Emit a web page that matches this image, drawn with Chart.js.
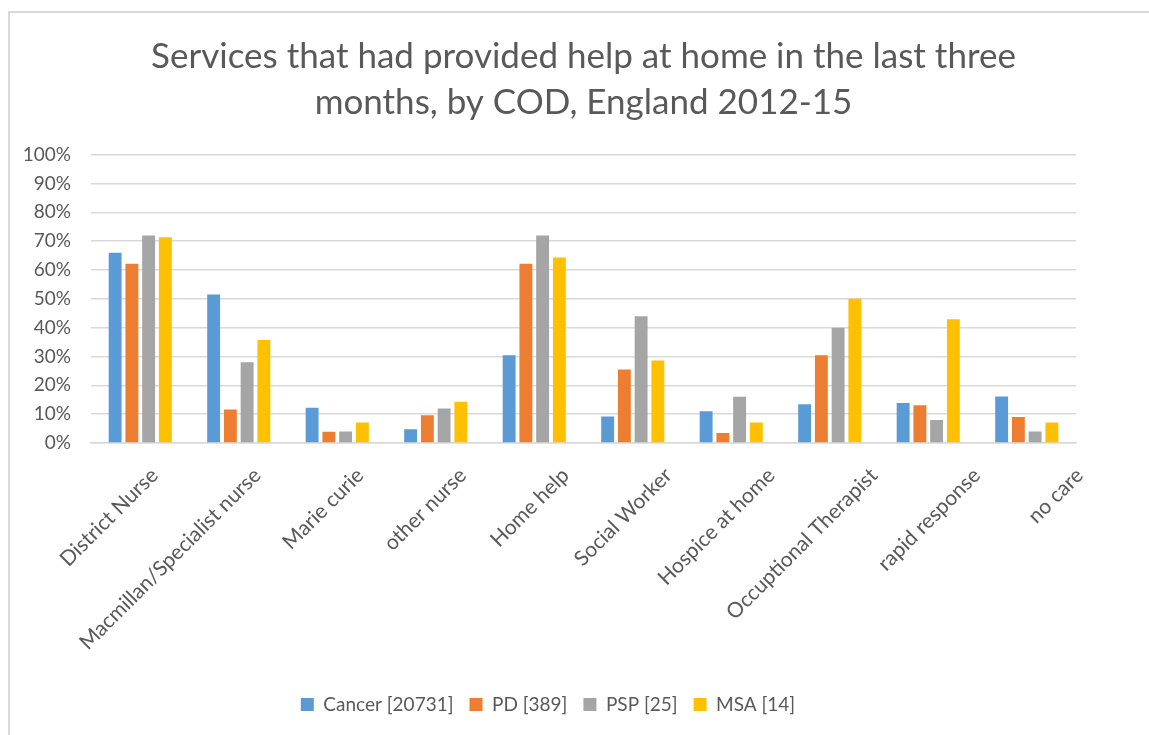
<!DOCTYPE html>
<html>
<head>
<meta charset="utf-8">
<script src="https://cdn.jsdelivr.net/npm/chart.js@4/dist/chart.umd.min.js"></script>
<style>
  html, body { margin: 0; padding: 0; background: #fff; }
  #wrap { position: relative; width: 1149px; height: 735px; overflow: hidden; }
  #frame { position: absolute; left: 8px; top: 11px; width: 1200px; height: 800px;
           border-left: 2px solid #d9d9d9; border-top: 2px solid #d9d9d9; }
  #c { position: absolute; left: 0; top: 0; }
</style>
</head>
<body>
<div id="wrap">
  <div id="frame"></div>
  <canvas id="c" width="1149" height="735"></canvas>
</div>
<script>
const categories = ["District Nurse", "Macmillan/Specialist nurse", "Marie curie", "other nurse",
  "Home help", "Social Worker", "Hospice at home", "Occuptional Therapist", "rapid response", "no care"];

const cancer = [66.0, 51.5, 12.2, 4.8, 30.4, 9.2, 11.0, 13.4, 13.9, 16.1];
const pd     = [62.2, 11.6, 3.9, 9.6, 62.2, 25.5, 3.5, 30.4, 13.1, 9.0];
const psp    = [72.0, 28.0, 4.0, 12.0, 72.0, 44.0, 16.0, 40.0, 8.0, 4.0];
const msa    = [71.4, 35.7, 7.1, 14.3, 64.3, 28.6, 7.1, 50.0, 42.9, 7.1];

const seriesNames = ["Cancer [20731]", "PD [389]", "PSP [25]", "MSA [14]"];
const yTicks = [0, 10, 20, 30, 40, 50, 60, 70, 80, 90, 100];

const textColor = "#595959";
const fontFamily = "Lato, 'Liberation Sans', sans-serif";
const colors = ["#5B9BD5", "#ED7D31", "#A5A5A5", "#FFC000"];
const values = [cancer, pd, psp, msa];

// Category names sit on their own slightly wider-spaced label axis under the bars
const labelAxisMin = -0.52;
const labelAxisMax = 9.062;

new Chart(document.getElementById("c"), {
  type: "bar",
  data: {
    labels: categories,
    datasets: seriesNames.map((name, i) => ({
      label: name,
      data: values[i],
      backgroundColor: colors[i],
      borderWidth: 0,
      categoryPercentage: 0.68,
      barPercentage: 0.77
    }))
  },
  options: {
    responsive: false,
    animation: false,
    layout: { padding: { left: 20, right: 73, top: 10, bottom: 11 } },
    plugins: {
      title: {
        display: true,
        fullSize: false,
        text: ["Services that had provided help at home in the last three", "months, by COD, England 2012-15"],
        color: textColor,
        font: { family: fontFamily, size: 35, weight: "normal", lineHeight: 1.31 },
        padding: { top: 24, bottom: 29 }
      },
      legend: {
        position: "bottom",
        labels: {
          color: textColor,
          font: { family: fontFamily, size: 19 },
          boxWidth: 13, boxHeight: 13, padding: 16
        }
      },
      tooltip: { enabled: false }
    },
    scales: {
      y: {
        min: 0, max: 100,
        afterBuildTicks: (s) => { s.ticks = yTicks.map(v => ({ value: v })); },
        afterFit: (s) => { s.width = 71; },
        ticks: {
          color: textColor,
          font: { family: fontFamily, size: 19 },
          padding: 20,
          callback: (v) => v + "%"
        },
        grid: { color: "#d9d9d9", lineWidth: 1.5, drawTicks: false },
        border: { display: false }
      },
      x: {
        afterFit: (s) => { s.height = 0; },
        ticks: { display: false },
        grid: { display: false, drawTicks: false },
        border: { color: "#d9d9d9", width: 1.5 }
      },
      xl: {
        type: "linear",
        position: "bottom",
        offset: false,
        min: labelAxisMin,
        max: labelAxisMax,
        afterBuildTicks: (s) => { s.ticks = categories.map((_, i) => ({ value: i })); },
        afterFit: (s) => { s.height = 236; },
        ticks: {
          color: textColor,
          font: { family: fontFamily, size: 21 },
          maxRotation: 45, minRotation: 45,
          autoSkip: false,
          padding: 20,
          labelOffset: 10,
          callback: (v) => categories[v]
        },
        grid: { display: false, drawTicks: false },
        border: { display: false }
      }
    }
  }
});
</script>
</body>
</html>
